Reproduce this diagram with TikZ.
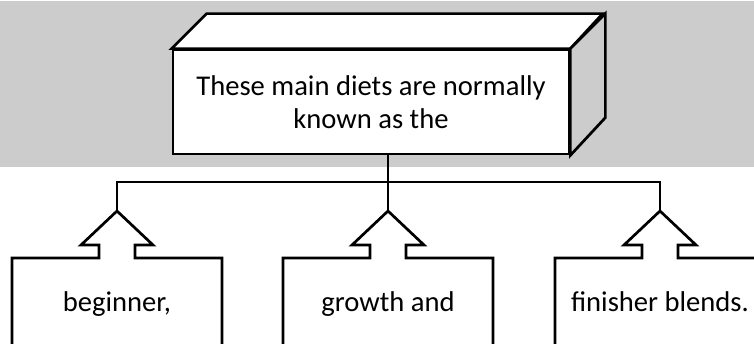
\documentclass[tikz,border=0pt]{standalone}
\usepackage{fontspec}
\setmainfont{Carlito}
\begin{document}
\begin{tikzpicture}[x=1pt,y=-1pt,
  outline/.style={draw=black,line width=2.7pt,line join=miter},
  label/.style={font=\fontsize{28.6}{32.6}\selectfont,inner sep=0pt},
  band/.style={fill=black!20},
  pics/upcall/.style={code={
    \draw[outline,fill=white]
      (0,0) -- (-36,34) -- (-18,34) -- (-18,47) -- (-105,47) -- (-105,150)
      -- (105,150) -- (105,47) -- (18,47) -- (18,34) -- (36,34) -- cycle;
  }}]
\useasboundingbox (0,0) rectangle (754,344);
\clip (0,0) rectangle (754,344);

% grey band behind the heading block
\fill[band] (0,1) rectangle (754,167);

% heading block: front face with the text, plus top and side faces
\node[outline,fill=white,minimum width=396pt,minimum height=104pt,
      label,align=center] (top) at (371,102)
  {These main diets are normally\\known as the};
\draw[outline,fill=white] (top.north west) -- ++(35,-35) -- ++(396,0)
  -- (top.north east) -- cycle;
\draw[outline,band] (top.north east) -- ++(35,-35) -- ++(0,104)
  -- (top.south east) -- cycle;

% arrow tips of the three blends
\coordinate (t1) at (117,211);
\coordinate (t2) at (388,211);
\coordinate (t3) at (660,211);
\coordinate (bus) at (388,182);

% up-arrow callouts
\pic at (t1) {upcall};
\pic at (t2) {upcall};
\pic at (t3) {upcall};

\node[label,anchor=base] (b1) at (117,312) {beginner,};
\node[label,anchor=base] (b2) at (388,312) {growth and};
\node[label,anchor=base] (b3) at (660,312) {finisher blends.};

% connectors
\draw[outline] (top.south -| bus) -- (t2);
\draw[outline] (t1) |- (bus) -| (t3);
\end{tikzpicture}
\end{document}
